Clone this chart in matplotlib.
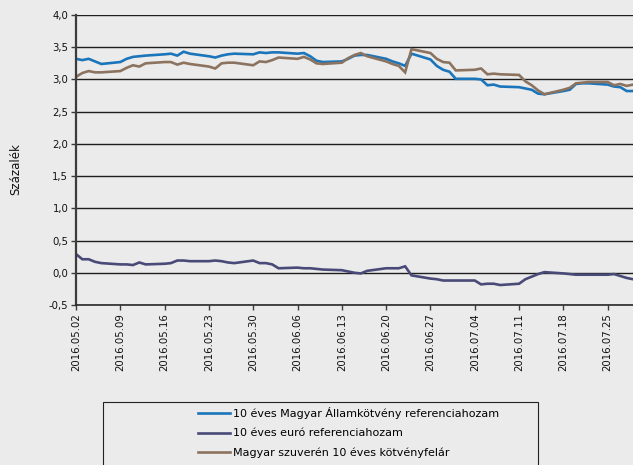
import matplotlib
matplotlib.use("Agg")
import matplotlib.pyplot as plt
import matplotlib.dates as mdates
import matplotlib.ticker as mticker
from matplotlib.patches import Rectangle
import numpy as np
import pandas as pd

dates = pd.to_datetime([
    "2016-05-02", "2016-05-03", "2016-05-04", "2016-05-05", "2016-05-06",
    "2016-05-09", "2016-05-10", "2016-05-11", "2016-05-12", "2016-05-13",
    "2016-05-16", "2016-05-17", "2016-05-18", "2016-05-19", "2016-05-20",
    "2016-05-23", "2016-05-24", "2016-05-25", "2016-05-26", "2016-05-27",
    "2016-05-30", "2016-05-31",
    "2016-06-01", "2016-06-02", "2016-06-03",
    "2016-06-06", "2016-06-07", "2016-06-08", "2016-06-09", "2016-06-10",
    "2016-06-13", "2016-06-14", "2016-06-15", "2016-06-16", "2016-06-17",
    "2016-06-20", "2016-06-21", "2016-06-22", "2016-06-23", "2016-06-24",
    "2016-06-27", "2016-06-28", "2016-06-29", "2016-06-30",
    "2016-07-01",
    "2016-07-04", "2016-07-05", "2016-07-06", "2016-07-07", "2016-07-08",
    "2016-07-11", "2016-07-12", "2016-07-13", "2016-07-14", "2016-07-15",
    "2016-07-18", "2016-07-19", "2016-07-20", "2016-07-21", "2016-07-22",
    "2016-07-25", "2016-07-26", "2016-07-27", "2016-07-28", "2016-07-29",
])

hu_10y = [
    3.32, 3.30, 3.32, 3.28, 3.24,
    3.27, 3.32, 3.35, 3.36, 3.37,
    3.39, 3.40, 3.37, 3.43, 3.40,
    3.36, 3.34, 3.37, 3.39, 3.40,
    3.39, 3.42,
    3.41, 3.42, 3.42,
    3.40, 3.41, 3.36, 3.29, 3.27,
    3.28, 3.32, 3.37, 3.38, 3.38,
    3.32, 3.28, 3.25, 3.21, 3.40,
    3.31, 3.21, 3.15, 3.12,
    3.01,
    3.01, 3.00, 2.91, 2.92, 2.89,
    2.88, 2.86, 2.84, 2.78, 2.77,
    2.82, 2.84, 2.93, 2.94, 2.94,
    2.92, 2.89, 2.88, 2.82, 2.82,
]

eur_10y = [
    0.29, 0.21, 0.21, 0.17, 0.15,
    0.13, 0.13, 0.12, 0.16, 0.13,
    0.14, 0.15, 0.19, 0.19, 0.18,
    0.18, 0.19, 0.18, 0.16, 0.15,
    0.19, 0.15,
    0.15, 0.13, 0.07,
    0.08, 0.07, 0.07, 0.06, 0.05,
    0.04, 0.02, 0.00, -0.01, 0.03,
    0.07, 0.07, 0.07, 0.10, -0.04,
    -0.09, -0.10, -0.12, -0.12,
    -0.12,
    -0.12, -0.18, -0.17, -0.17, -0.19,
    -0.17, -0.10, -0.06, -0.02, 0.01,
    -0.01, -0.02, -0.03, -0.03, -0.03,
    -0.03, -0.02, -0.05, -0.08, -0.10,
]

spread = [
    3.04, 3.10, 3.13, 3.11, 3.11,
    3.13, 3.18, 3.22, 3.20, 3.25,
    3.27, 3.27, 3.23, 3.26, 3.24,
    3.20, 3.17, 3.25, 3.26, 3.26,
    3.22, 3.28,
    3.27, 3.30, 3.34,
    3.32, 3.35, 3.31, 3.25, 3.24,
    3.26, 3.33, 3.38, 3.41, 3.36,
    3.28, 3.24, 3.21, 3.11, 3.47,
    3.41, 3.32, 3.27, 3.26,
    3.14,
    3.15, 3.17, 3.08, 3.09, 3.08,
    3.07, 2.97, 2.91, 2.83, 2.77,
    2.84, 2.87, 2.94, 2.95, 2.96,
    2.96, 2.91, 2.93, 2.90, 2.92,
]

labels = [
    "10 éves Magyar Államkötvény referenciahozam",
    "10 éves euró referenciahozam",
    "Magyar szuverén 10 éves kötvényfelár",
]
colors = ["#1B75BB", "#4A4A78", "#8C735F"]
ylabel = "Százalék"

BG = "#EBEBEB"
W, H = 633, 465
fig = plt.figure(figsize=(W / 100, H / 100), dpi=100, facecolor=BG)
ax = fig.add_axes([76 / W, 1 - 305 / H, 1 - 76 / W, 290 / H])
ax.set_facecolor(BG)

series = [hu_10y, eur_10y, spread]
handles = []
for vals, col, lab in zip(series, colors, labels):
    h, = ax.plot(dates, vals, color=col, lw=1.9, label=lab, solid_joinstyle="miter")
    handles.append(h)

ax.set_ylim(-0.5, 4.0)
ax.set_yticks(np.arange(-0.5, 4.01, 0.5))
ax.yaxis.set_major_formatter(mticker.FuncFormatter(lambda v, p: f"{v:.1f}".replace(".", ",")))
ax.set_xlim(pd.Timestamp("2016-05-02"), pd.Timestamp("2016-07-29"))
ticks = pd.date_range("2016-05-02", "2016-07-25", freq="7D")
ax.set_xticks(ticks)
ax.xaxis.set_major_formatter(mdates.DateFormatter("%Y.%m.%d"))
plt.setp(ax.get_xticklabels(), rotation=90)

ax.yaxis.grid(True, color="#1e1e1e", lw=1.0)
ax.set_axisbelow(True)
for s in ["top", "right"]:
    ax.spines[s].set_visible(False)
ax.spines["left"].set_color("#3c3c3c")
ax.spines["left"].set_linewidth(1.6)
ax.spines["bottom"].set_color("#2a2a2a")
ax.spines["bottom"].set_linewidth(1.2)
ax.tick_params(axis="both", direction="out", length=3.5, width=1.0, color="#3c3c3c",
               labelsize=7.3, labelcolor="#111111")
ax.tick_params(axis="y", pad=2)
ax.tick_params(axis="x", pad=2.5)

ax.set_ylabel(ylabel, fontsize=8.5, color="#111111")
ax.yaxis.set_label_coords((22 - 76) / 557, 0.47)

fig.add_artist(Rectangle((103 / W, -0.05), (538 - 103) / W, (1 - 402 / H) + 0.05,
                         transform=fig.transFigure, fill=False, ec="#222222", lw=0.8))
fig.legend(handles, labels, loc="upper left", bbox_to_anchor=(198 / W, 1 - 407 / H),
           frameon=False, fontsize=8, handlelength=2.9, handletextpad=0.25,
           labelspacing=0.85, borderpad=0, borderaxespad=0)

fig.savefig("out.png", dpi=100, facecolor=BG)
